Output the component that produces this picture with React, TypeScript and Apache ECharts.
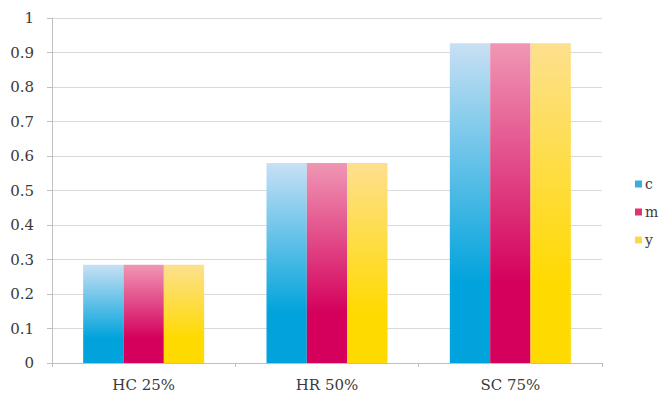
import React, { useEffect, useRef } from "react";
import * as echarts from "echarts";

const categories = ["HC 25%", "HR 50%", "SC 75%"];
const seriesNames = ["c", "m", "y"];
const cValues = [0.285, 0.58, 0.927];
const mValues = [0.285, 0.58, 0.927];
const yValues = [0.285, 0.58, 0.927];
const yTicks = { min: 0, max: 1, interval: 0.1 };

const grad = (top: string, bottom: string) =>
  new echarts.graphic.LinearGradient(0, 0, 0, 1, [
    { offset: 0, color: top },
    { offset: 0.75, color: bottom },
    { offset: 1, color: bottom },
  ]);

export default function App() {
  const ref = useRef<HTMLDivElement>(null);
  useEffect(() => {
    if (!ref.current) return;
    const chart = echarts.init(ref.current, undefined, { renderer: "svg" });
    const font = "'DejaVu Serif', 'Liberation Serif', serif";
    const mk = (name: string, data: number[], top: string, bottom: string) => ({
      name,
      type: "bar",
      data,
      barGap: "0%",
      barCategoryGap: "34%",
      itemStyle: { color: grad(top, bottom) },
    });
    chart.setOption({
      animation: false,
      backgroundColor: "#ffffff",
      color: ["#3aaee0", "#e0336f", "#fbd94a"],
      grid: { left: 52, right: 60, top: 18, bottom: 43 },
      legend: {
        orient: "vertical",
        left: 630,
        top: 172,
        itemWidth: 7,
        itemHeight: 7,
        itemGap: 14,
        icon: "rect",
        textStyle: { fontFamily: font, fontSize: 14, color: "#3a3a3a", padding: [0, 0, 0, -2] },
        data: [
          { name: "c", itemStyle: { color: "#3aaee0" } },
          { name: "m", itemStyle: { color: "#e0336f" } },
          { name: "y", itemStyle: { color: "#fbd94a" } },
        ],
      },
      xAxis: {
        type: "category",
        data: categories,
        axisLine: { show: true, lineStyle: { color: "#bfbfbf" } },
        axisTick: { show: true, alignWithLabel: false, length: 4, lineStyle: { color: "#bfbfbf" } },
        axisLabel: { fontFamily: font, fontSize: 15, color: "#3a3a3a", margin: 14 },
      },
      yAxis: {
        type: "value",
        min: yTicks.min,
        max: yTicks.max,
        interval: yTicks.interval,
        axisLine: { show: true, lineStyle: { color: "#bfbfbf" } },
        axisTick: { show: true, length: 5, lineStyle: { color: "#bfbfbf" } },
        splitLine: { lineStyle: { color: "#d9d9d9" } },
        axisLabel: { fontFamily: font, fontSize: 15, color: "#3a3a3a", margin: 18 },
      },
      series: [
        mk(seriesNames[0], cValues, "#c8e0f4", "#00a3dc"),
        mk(seriesNames[1], mValues, "#f097b5", "#d4005c"),
        mk(seriesNames[2], yValues, "#fde08f", "#ffda00"),
      ],
    });
    return () => chart.dispose();
  }, []);
  return <div ref={ref} style={{ width: 662, height: 406, position: "absolute", left: 0, top: 0 }} />;
}
